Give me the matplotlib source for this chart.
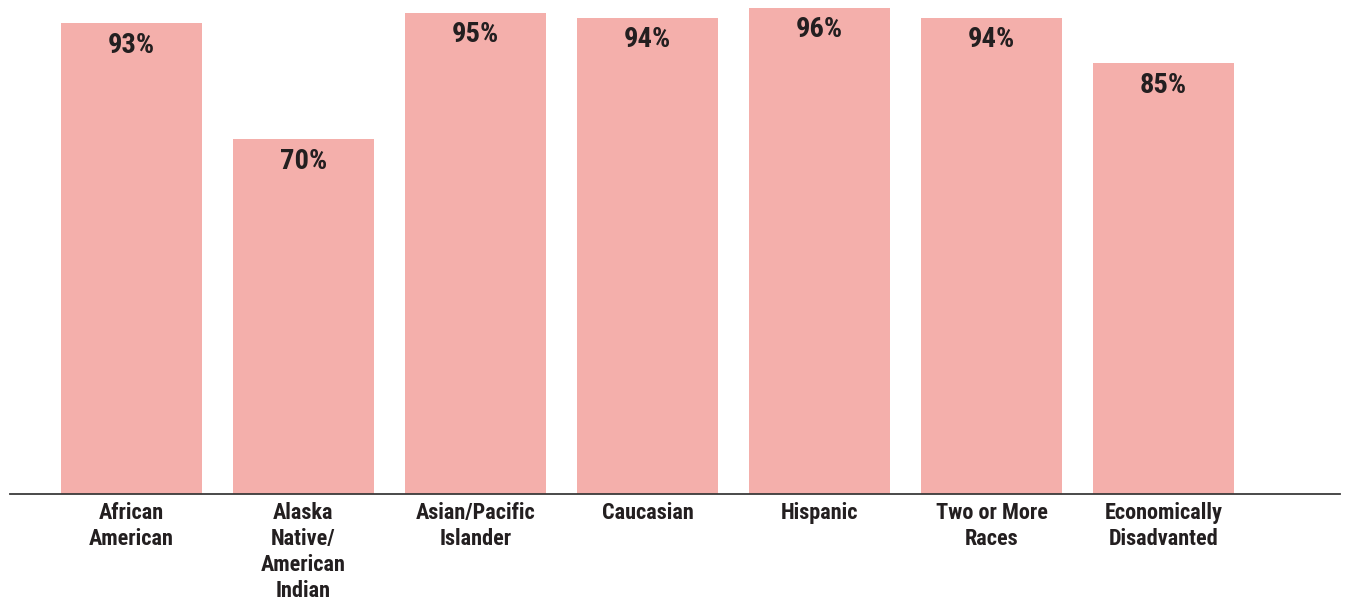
import matplotlib
matplotlib.use("Agg")
import matplotlib.pyplot as plt
from matplotlib import font_manager

categories = [
    "African\nAmerican",
    "Alaska\nNative/\nAmerican\nIndian",
    "Asian/Pacific\nIslander",
    "Caucasian",
    "Hispanic",
    "Two or More\nRaces",
    "Economically\nDisadvanted",
]
values = [93, 70, 95, 94, 96, 94, 85]

available = {f.name for f in font_manager.fontManager.ttflist}
candidates = ["Liberation Sans Narrow", "Roboto Condensed", "Open Sans Condensed",
              "Arial Narrow", "Liberation Sans"]
family = next((c for c in candidates if c in available), "DejaVu Sans")
plt.rcParams["font.family"] = [family, "DejaVu Sans"]

bar_color = "#F4AFAB"
text_color = "#231F20"

fig = plt.figure(figsize=(13.48, 6.04), dpi=100)
ax = fig.add_axes([10 / 1348, 110 / 604, 1330 / 1348, 494 / 604])

x = list(range(len(categories)))
ax.bar(x, values, width=0.82, color=bar_color, zorder=1)

for xi, v in zip(x, values):
    ax.annotate(f"{v}%", xy=(xi, v), xytext=(0, -16), textcoords="offset points",
                ha="center", va="center", fontsize=20.5, fontweight="bold",
                color=text_color)

ax.set_xlim(-0.706, 7.026)
ax.set_ylim(0, 97.5)
ax.set_xticks(x)
ax.set_xticklabels(categories, fontsize=16, fontweight="bold", color=text_color,
                   linespacing=1.24, va="top")
ax.tick_params(axis="x", length=0, pad=5.5)
ax.set_yticks([])

for side in ("top", "right", "left"):
    ax.spines[side].set_visible(False)
ax.spines["bottom"].set_color("#3a3a3a")
ax.spines["bottom"].set_linewidth(1.3)

fig.savefig("out.png", dpi=100, facecolor="white")
